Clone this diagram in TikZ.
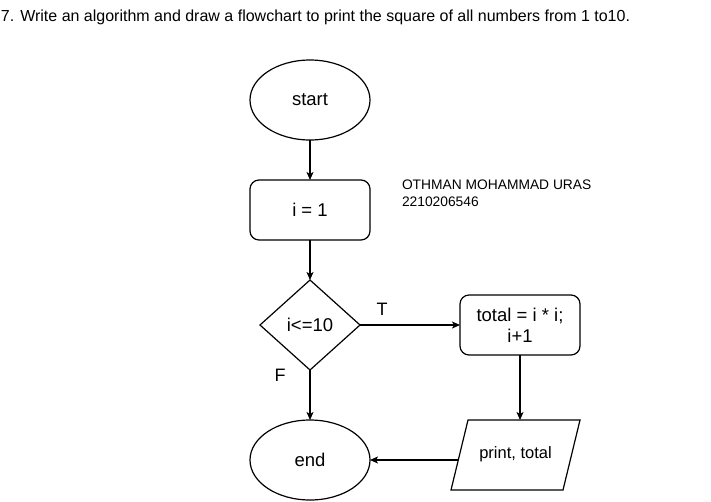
\documentclass[tikz,border=0pt]{standalone}
\usepackage{fontspec}
\setmainfont{Liberation Sans}
\usetikzlibrary{shapes.geometric,arrows.meta}
\begin{document}
\begin{tikzpicture}[x=1pt,y=-1pt,
  every node/.style={inner sep=0pt, outer sep=0pt},
  lw/.style={line width=1.2pt},
  termbox/.style={lw, draw, ellipse, minimum width=120pt, minimum height=80pt, font=\fontsize{18.5}{22}\selectfont},
  procbox/.style={lw, draw, rounded corners=9pt, minimum width=120pt, minimum height=60pt, align=center, font=\fontsize{18.5}{22}\selectfont},
  decbox/.style={lw, draw, diamond, minimum width=100pt, minimum height=90pt, font=\fontsize{18.5}{22}\selectfont},
  iotext/.style={font=\fontsize{16.5}{20}\selectfont},
  lbl/.style={font=\fontsize{18}{22}\selectfont},
  arr/.style={lw, -{Stealth[length=8pt,width=7pt,inset=2pt]}}
]
\useasboundingbox (0,0) rectangle (711,501);
\fill[white] (0,0) rectangle (711,501);

\node[anchor=west, font=\fontsize{16}{19}\selectfont] (title) at (1,17) {7. Write an algorithm and draw a flowchart to print the square of all numbers from 1 to10.};

\node[termbox] (start) at (310,100) {start};
\node[procbox] (init) at (310,210) {i = 1};
\node[decbox] (cond) at (310,325) {i<=10};
\node[procbox] (calc) at (520,325) {total = i * i;\\[-1pt]i+1};
\node[termbox] (endn) at (310,460) {end};

% parallelogram (output)
\coordinate (pbl) at (451,490);
\coordinate (ptl) at (468,420);
\coordinate (ptr) at (580,420);
\coordinate (pbr) at (563,490);
\draw[lw, line join=miter] (pbl) -- (ptl) -- (ptr) -- (pbr) -- cycle;
\node[iotext] (out) at (515.5,454) {print, total};
\coordinate (outtop) at (520,420);
\coordinate (outleft) at (458.3,460);

\node[anchor=west, align=left, font=\fontsize{13.8}{17}\selectfont] (name) at (402,193.5) {OTHMAN MOHAMMAD URAS\\2210206546};

\node[lbl] (tl) at (382,309) {T};
\node[lbl] (fl) at (280,375) {F};

\draw[arr] (start) -- (init);
\draw[arr] (init) -- (cond);
\draw[arr] (cond.east) -- (calc.west);
\draw[arr] (calc.south) -- (outtop);
\draw[arr] (cond.south) -- (endn.north);
\draw[arr] (outleft) -- (endn.east);
\end{tikzpicture}
\end{document}
